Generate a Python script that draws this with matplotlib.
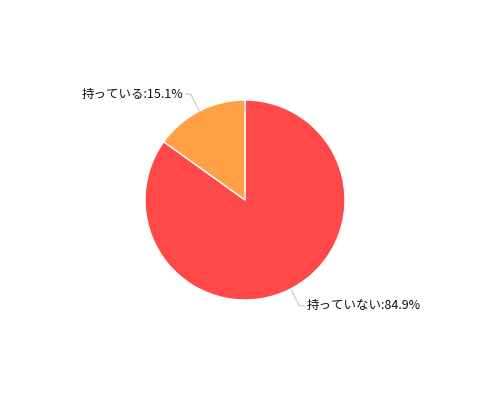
import numpy as np
import matplotlib
matplotlib.use("Agg")
import matplotlib.pyplot as plt

plt.rcParams['font.family'] = ['Noto Sans CJK JP', 'DejaVu Sans']

# データ
labels = ["持っていない", "持っている"]
values = [84.9, 15.1]
colors = ["#FF4848", "#FFA044"]

fig = plt.figure(figsize=(5, 4), dpi=100)
ax = fig.add_axes([0, 0, 1, 1])
ax.set_xlim(0, 500)
ax.set_ylim(0, 400)
ax.set_aspect("equal")
ax.axis("off")

cx, cy, r = 245, 200, 100
wedges, _ = ax.pie(values, colors=colors, startangle=90, counterclock=False,
                   center=(cx, cy), radius=r,
                   wedgeprops=dict(edgecolor="white", linewidth=1))
ax.set_xlim(0, 500)
ax.set_ylim(0, 400)

# ラベルと引き出し線
for w, lab, v in zip(wedges, labels, values):
    ang = np.deg2rad((w.theta1 + w.theta2) / 2)
    x0, y0 = cx + r * np.cos(ang), cy + r * np.sin(ang)
    x1, y1 = cx + 1.19 * r * np.cos(ang), cy + 1.19 * r * np.sin(ang)
    side = 1 if np.cos(ang) > 0 else -1
    x2 = x1 + side * 5
    ax.plot([x0, x1, x2], [y0, y1, y1], color="#C8C8C8", lw=0.8)
    ax.text(x2 + side * 2, y1, f"{lab}:{v}%", fontsize=9,
            ha="left" if side > 0 else "right", va="center", color="#111111")

fig.savefig("out.png", dpi=100)
